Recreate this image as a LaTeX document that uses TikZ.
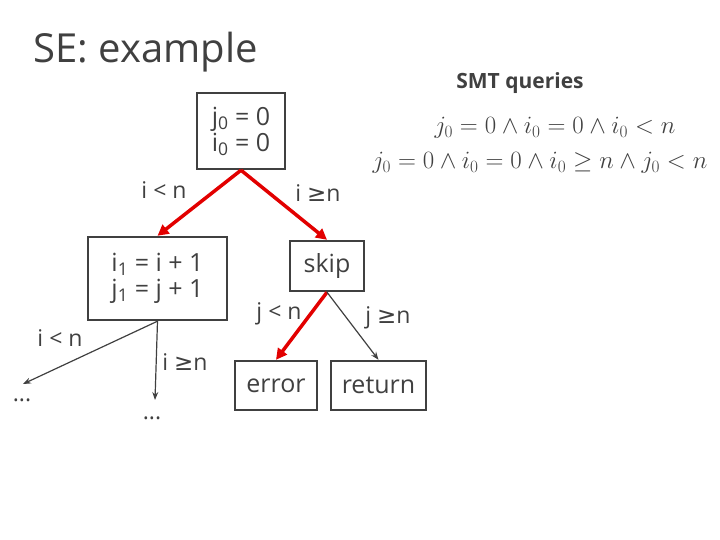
\documentclass[tikz,border=0pt]{standalone}
\usepackage{fontspec}
\setmainfont{Open Sans}
\newfontfamily\symfont{DejaVu Sans}
\usetikzlibrary{arrows.meta,positioning}
\definecolor{segray}{RGB}{64,64,64}
\definecolor{sered}{RGB}{226,0,0}
\newcommand{\gesym}{{\symfont ≥}}

\begin{document}
\begin{tikzpicture}[x=1pt,y=-1pt,
  blk/.style={draw=segray,line width=2.4pt,text=segray,font=\fontsize{25}{26}\selectfont,inner sep=0pt,align=left},
  lbl/.style={text=segray,font=\fontsize{23}{25}\selectfont},
  redpath/.style={sered,line width=3.5pt,-{Triangle[length=11pt,width=11pt]}},
  flow/.style={segray,line width=1.2pt,-{Stealth[length=8pt,width=6pt]}}]
  \useasboundingbox (0,0) rectangle (720,540);

  % title and queries
  \node[anchor=west,text=segray,font=\fontsize{40}{44}\selectfont] (title) at (30,52) {SE: example};
  \node[text=segray,font=\fontsize{21}{24}\selectfont\bfseries] (smt) at (520,83) {SMT queries};
  \node[text=segray,font=\fontsize{26}{30}\selectfont] (q1) at (555,128) {$j_0 = 0 \wedge i_0 = 0 \wedge i_0 < n$};
  \node[text=segray,font=\fontsize{26}{30}\selectfont] (q2) at (540,163) {$j_0 = 0 \wedge i_0 = 0 \wedge i_0 \geq n \wedge j_0 < n$};

  % blocks
  \node[blk,minimum width=88,minimum height=76] (init) at (241,131) {j\textsubscript{0} = 0\\i\textsubscript{0} = 0};
  \node[blk,minimum width=139,minimum height=83] (incr) at (157.5,278.5) {i\textsubscript{1} = i + 1\\j\textsubscript{1} = j + 1};
  \node[blk,minimum width=74,minimum height=50] (skip) at (327,266) {skip};
  \node[blk,minimum width=82,minimum height=49] (err) at (276,385.5) {error};
  \node[blk,minimum width=95,minimum height=49] (ret) at (378.5,385.5) {return};

  % unexplored branches
  \node[lbl] (dotsL) at (22,400) {...};
  \node[lbl] (dotsR) at (152,418) {...};
  \coordinate (endL) at (23,384);
  \coordinate (endR) at (155,400);

  % edges
  \draw[redpath] (init.south) -- (incr.north);
  \draw[redpath] (init.south) -- (skip.north);
  \draw[redpath] (skip.south) -- (err.north);
  \draw[flow] (skip.south) -- (ret.north);
  \draw[flow] (incr.south) -- (endL);
  \draw[flow] (incr.south) -- (endR);

  % branch conditions
  \node[lbl] (c1) at (164,190) {i < n};
  \node[lbl] (c2) at (318,193) {i \gesym n};
  \node[lbl] (c3) at (60,338) {i < n};
  \node[lbl] (c4) at (185,362) {i \gesym n};
  \node[lbl] (c5) at (279,314) {j < n};
  \node[lbl] (c6) at (388,318) {j \gesym n};
\end{tikzpicture}
\end{document}
